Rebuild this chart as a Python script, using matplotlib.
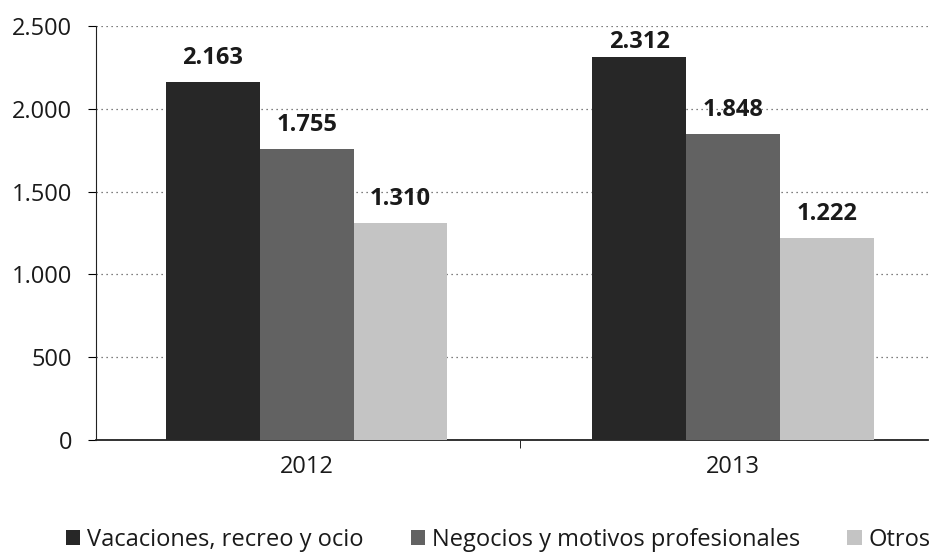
import matplotlib
matplotlib.use("Agg")
import matplotlib.pyplot as plt
import numpy as np
from matplotlib.ticker import FuncFormatter

categories = ["2012", "2013"]
series_names = ["Vacaciones, recreo y ocio", "Negocios y motivos profesionales", "Otros"]
vacaciones = [2163, 2312]
negocios = [1755, 1848]
otros = [1310, 1222]
yticks = [0, 500, 1000, 1500, 2000, 2500]

colors = ["#272727", "#626262", "#c4c4c4"]
plt.rcParams['font.family'] = ['Open Sans', 'DejaVu Sans']
txt = "#1a1a1a"

fig = plt.figure(figsize=(9.33, 5.55), dpi=100)
ax_left, ax_right = 96 / 933, 928 / 933
ax = fig.add_axes([ax_left, 1 - 440 / 555, ax_right - ax_left, (440 - 26) / 555])

x = np.arange(len(categories))
w = 0.22
data = [vacaciones, negocios, otros]
for i, (vals, name, c) in enumerate(zip(data, series_names, colors)):
    pos = x + (i - 1) * w
    ax.bar(pos, vals, width=w, color=c, label=name, zorder=3)
    for p, v in zip(pos, vals):
        ax.text(p, min(v + 145, 2405), f"{v:,}".replace(",", "."), ha="center", va="center",
                fontsize=17, fontweight="bold", color=txt, zorder=4)

ax.set_xlim(-0.494, 1.457)
ax.set_ylim(0, 2500)
ax.set_yticks(yticks)
ax.yaxis.set_major_formatter(FuncFormatter(lambda v, p: f"{int(v):,}".replace(",", ".")))
ax.set_xticks(x)
ax.set_xticklabels(categories)
ax.tick_params(axis="x", length=0, labelsize=17, pad=11, labelcolor=txt)
ax.tick_params(axis="y", length=6, labelsize=17, direction="out", pad=11, labelcolor=txt)
ax.set_xticks([0.5], minor=True)
ax.tick_params(axis="x", which="minor", length=6, direction="out")
ax.grid(axis="y", linestyle=(0, (1, 3)), color="#555555", linewidth=0.9, zorder=0)
for s in ["top", "right"]:
    ax.spines[s].set_visible(False)
ax.spines["left"].set_color("#222222")
ax.spines["bottom"].set_color("#222222")
ax.spines["bottom"].set_linewidth(1.3)

leg = fig.legend(loc="center", bbox_to_anchor=(0.534, 15 / 555), ncol=3, frameon=False,
                 fontsize=17, handlelength=0.6, handleheight=0.6, handletextpad=0.3,
                 columnspacing=2.0, borderpad=0)
for t in leg.get_texts():
    t.set_color(txt)

fig.savefig("out.png", dpi=100)
